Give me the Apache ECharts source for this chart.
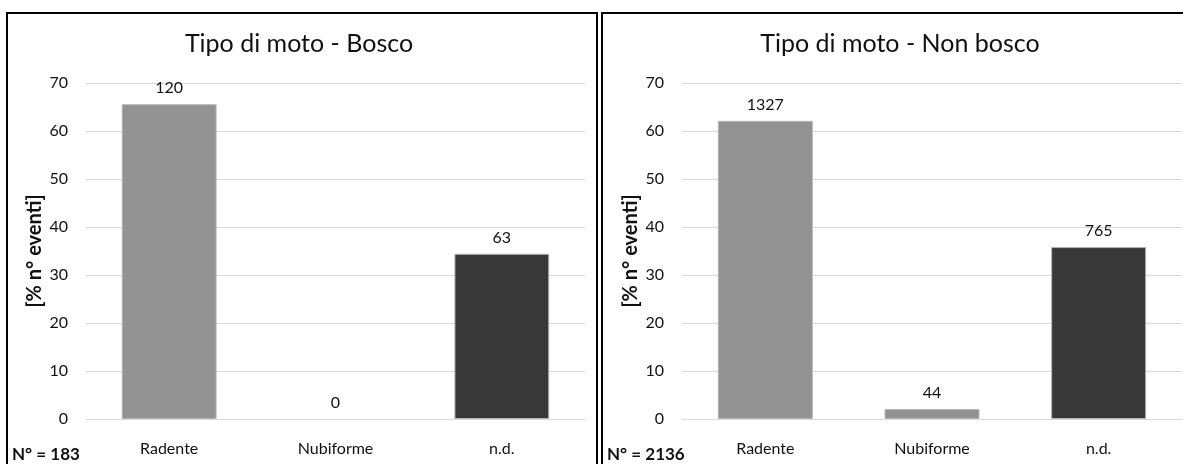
<!DOCTYPE html>
<html>
<head>
<meta charset="utf-8">
<script src="https://cdn.jsdelivr.net/npm/echarts@6/dist/echarts.min.js"></script>
<style>
  html, body { margin: 0; padding: 0; background: #fff; }
  #chart { width: 1183px; height: 464px; }
</style>
</head>
<body>
<div id="chart"></div>
<script>
// Fire movement type, counts of events per category
const categories = ['Radente', 'Nubiforme', 'n.d.'];
const boscoCounts = [120, 0, 63];
const nonBoscoCounts = [1327, 44, 765];
const barColors = ['#929292', '#929292', '#383838'];
const yTicks = { min: 0, max: 70, interval: 10 };

const FONT = 'Lato, "Open Sans", sans-serif';
const TEXT = '#111111';

function total(arr) { return arr.reduce((a, b) => a + b, 0); }
function toPercent(arr) {
  const t = total(arr);
  return arr.map(v => v / t * 100);
}

const boscoTotal = total(boscoCounts);
const nonBoscoTotal = total(nonBoscoCounts);

function xAxis(gridIndex) {
  return {
    type: 'category', gridIndex, data: categories,
    axisTick: { show: false },
    axisLine: { lineStyle: { color: '#d9d9d9', width: 1 } },
    axisLabel: { color: TEXT, fontFamily: FONT, fontSize: 16, margin: 22 }
  };
}
function yAxis(gridIndex) {
  return {
    type: 'value', gridIndex,
    min: yTicks.min, max: yTicks.max, interval: yTicks.interval,
    name: '[% n° eventi]', nameLocation: 'middle', nameRotate: 90, nameGap: 41,
    nameTextStyle: { color: TEXT, fontFamily: FONT, fontSize: 20, fontWeight: 'bold' },
    axisLine: { show: false }, axisTick: { show: false },
    axisLabel: { color: TEXT, fontFamily: FONT, fontSize: 16, margin: 18 },
    splitLine: { lineStyle: { color: '#d9d9d9', width: 1 } }
  };
}
function barSeries(idx, counts) {
  return {
    type: 'bar', xAxisIndex: idx, yAxisIndex: idx,
    data: toPercent(counts).map((v, i) => ({
      value: v,
      itemStyle: { color: barColors[i], borderWidth: v > 0 ? 1 : 0 }
    })),
    barWidth: '57%',
    itemStyle: { borderColor: '#b5b5b5' },
    label: {
      show: true, position: 'top', distance: 8,
      color: TEXT, fontFamily: FONT, fontSize: 16,
      formatter: p => String(counts[p.dataIndex])
    },
    emphasis: { disabled: true },
    animation: false
  };
}

const chart = echarts.init(document.getElementById('chart'), null, { renderer: 'canvas' });
chart.setOption({
  backgroundColor: '#ffffff',
  animation: false,
  title: [
    { text: 'Tipo di moto - Bosco', left: 299, top: 31, textAlign: 'center', padding: 0,
      textStyle: { color: TEXT, fontFamily: FONT, fontSize: 25, fontWeight: 'normal' } },
    { text: 'Tipo di moto - Non bosco', left: 900, top: 31, textAlign: 'center', padding: 0,
      textStyle: { color: TEXT, fontFamily: FONT, fontSize: 25, fontWeight: 'normal' } }
  ],
  grid: [
    { left: 86, right: 598, top: 83, bottom: 45 },
    { left: 682, right: 1, top: 83, bottom: 45 }
  ],
  xAxis: [xAxis(0), xAxis(1)],
  yAxis: [yAxis(0), yAxis(1)],
  series: [barSeries(0, boscoCounts), barSeries(1, nonBoscoCounts)],
  graphic: [
    { type: 'rect', shape: { x: 7, y: 13, width: 590, height: 480 }, silent: true,
      style: { fill: 'none', stroke: '#000', lineWidth: 2 } },
    { type: 'rect', shape: { x: 602, y: 13, width: 620, height: 480 }, silent: true,
      style: { fill: 'none', stroke: '#000', lineWidth: 2 } },
    { type: 'text', left: 12, top: 446, silent: true,
      style: { text: 'N° = ' + boscoTotal, fill: TEXT, font: 'bold 17px ' + FONT } },
    { type: 'text', left: 607, top: 446, silent: true,
      style: { text: 'N° = ' + nonBoscoTotal, fill: TEXT, font: 'bold 17px ' + FONT } }
  ]
});
</script>
</body>
</html>
